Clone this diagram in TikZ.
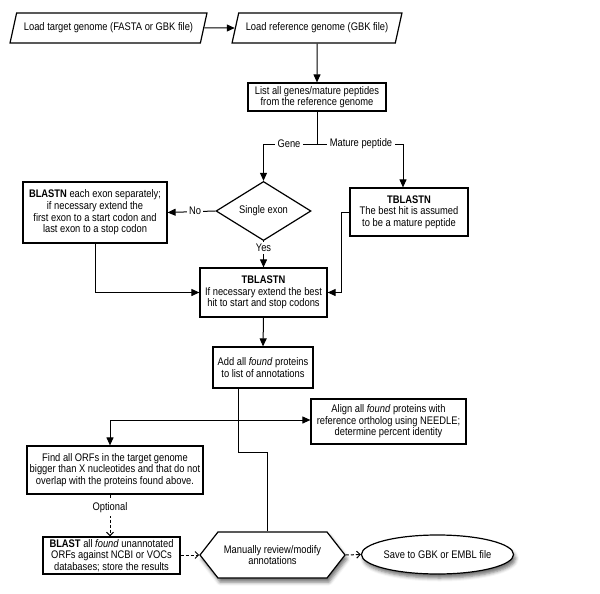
\documentclass[tikz,border=0pt]{standalone}
\usepackage{fontspec}
\setmainfont[FakeStretch=0.85]{Liberation Sans}
\usetikzlibrary{shapes.geometric,shapes.symbols,arrows.meta,shadows.blur}
\begin{document}
\begin{tikzpicture}[x=1pt,y=-1pt,font=\fontsize{11}{11.6}\selectfont]
\tikzset{
 box/.style={draw, line width=1.2pt, fill=white, align=center, inner sep=1pt},
 para/.style={draw, line width=1.2pt, trapezium, trapezium left angle=63.4, trapezium right angle=116.6, trapezium stretches=true, inner sep=1pt, align=center},
 ln/.style={line width=1pt},
 arr/.style={ln, -{Triangle[length=8pt,width=7pt]}},
 darr/.style={ln, dash pattern=on 3pt off 2pt, -{Straight Barb[length=3.5pt,width=7pt]}},
 lbl/.style={fill=white, inner sep=2.5pt},
 shad/.style={blur shadow={shadow xshift=2pt, shadow yshift=-4pt, shadow blur radius=3.5pt, shadow opacity=55}},
}
\useasboundingbox (0,0) rectangle (600,594);
\node[para, minimum width=197pt, minimum height=30pt] (p1) at (108.5,28) {Load target genome (FASTA or GBK file)};
\node[para, minimum width=170pt, minimum height=30pt] (p2) at (317,28) {Load reference genome (GBK file)};
\node[box, minimum width=138pt, minimum height=28pt] (list) at (317,97) {List all genes/mature peptides\\from the reference genome};
\coordinate (J) at (317,144);
\coordinate (G) at (263.5,144);
\coordinate (M) at (403,144);
\node[diamond, draw, line width=1.2pt, minimum width=95pt, minimum height=41pt, inner sep=0pt] (dia) at (263.5,211) {Single exon};
\node[box, minimum width=144pt, minimum height=61pt] (bn) at (95,212.5) {\textbf{BLASTN} each exon separately;\\if necessary extend the\\first exon to a start codon and\\last exon to a stop codon};
\node[box, minimum width=118pt, minimum height=48pt] (tbr) at (409,212) {\textbf{TBLASTN}\\The best hit is assumed\\to be a mature peptide};
\node[box, minimum width=127pt, minimum height=49pt] (main) at (263.5,292.5) {\textbf{TBLASTN}\\If necessary extend the best\\hit to start and stop codons};
\node[box, minimum width=100pt, minimum height=41pt] (add) at (263,367.5) {Add all \textit{found} proteins\\to list of annotations};
\node[box, minimum width=155pt, minimum height=45pt] (align) at (388.5,421.5) {Align all \textit{found} proteins with\\reference ortholog using NEEDLE;\\determine percent identity};
\node[box, minimum width=176pt, minimum height=48pt] (find) at (115,470) {Find all ORFs in the target genome\\bigger than X nucleotides and that do not\\overlap with the proteins found above.};
\node[box, minimum width=137pt, minimum height=37pt] (blast) at (111.5,555.5) {\textbf{BLAST} all \textit{found} unannotated\\ORFs against NCBI or VOCs\\databases; store the results};
\node[signal, signal to=west and east, signal pointer angle=104, draw, line width=1.2pt, fill=white, minimum width=145pt, minimum height=46pt, inner sep=0pt, align=center, shad] (hex) at (272.5,555) {Manually review/modify\\annotations};
\node[ellipse, draw, line width=1.2pt, fill=white, minimum width=145pt, minimum height=39pt, inner sep=0pt, shad] (ell) at (437.5,554.5) {Save to GBK or EMBL file};
% connectors
\draw[arr] (p1) -- (p2);
\draw[arr] (p2) -- (list);
\draw[ln] (list) -- (J);
\draw[ln] (G) -- (M);
\draw[arr] (G) -- (dia.north);
\draw[arr] (M) -- (M |- tbr.north);
\node[lbl] (lg) at (289,144) {Gene};
\node[lbl] (lm) at (361,144) {Mature peptide};
\draw[arr] (dia.west) -- (bn.east);
\node[lbl] (lno) at (195,211) {No};
\draw[arr] (dia.south) -- (main.north);
\node[lbl] (lyes) at (263.5,248) {Yes};
\draw[arr] (bn.south) |- (main.west);
\draw[arr] (tbr.west) -- ++(-8,0) |- (main.east);
\draw[arr] (main.south) -- (add.north);
\coordinate (T) at (238,420);
\coordinate (K) at (267,452);
\coordinate (F) at (110,420);
\draw[ln] (add.south -| T) |- (K) -- (K |- hex.north);
\draw[arr] (T) -- (F) -- (F |- find.north);
\draw[arr] (T) -- (T -| align.west);
\draw[darr] (find.south -| F) -- (blast.north -| F);
\node[lbl] (lopt) at (110,508) {Optional};
\draw[darr] (blast.east |- hex.west) -- (hex.west);
\draw[darr] (hex.east) -- (ell.west);
\end{tikzpicture}
\end{document}
